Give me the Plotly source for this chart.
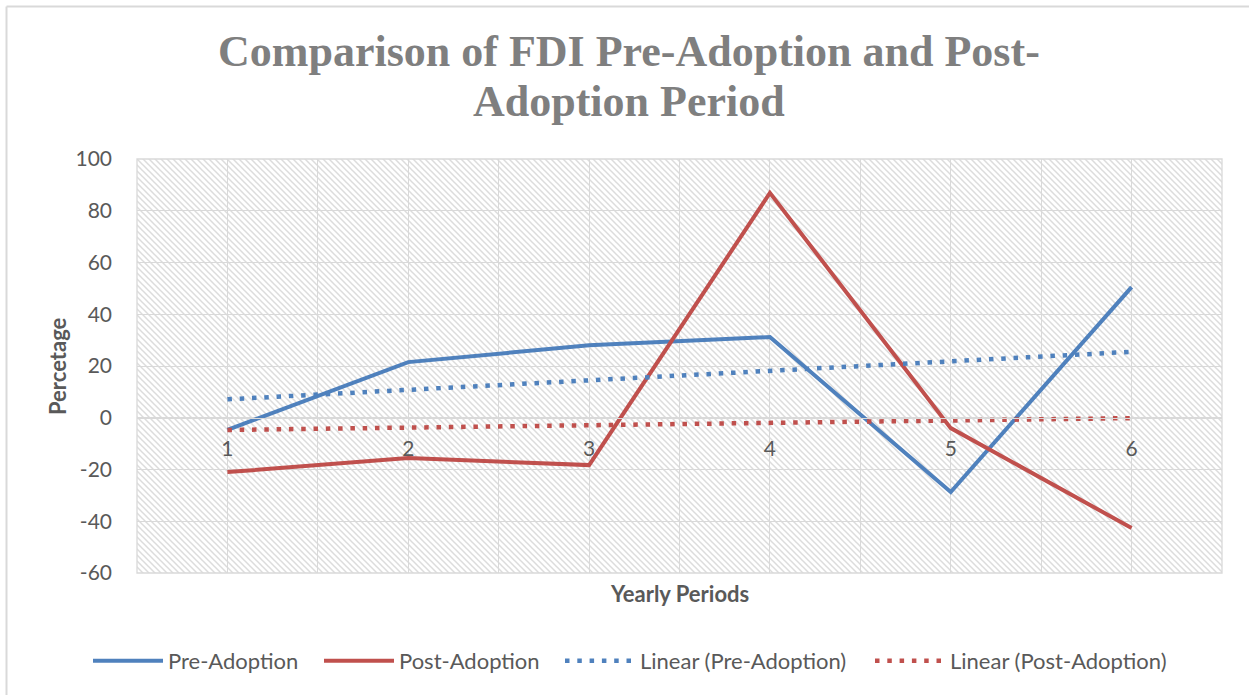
import base64
import numpy as np
import plotly.graph_objects as go

# ---- data ----
periods = [1, 2, 3, 4, 5, 6]
period_labels = ["1", "2", "3", "4", "5", "6"]
pre_adoption = [-4.7, 21.5, 28.0, 31.2, -28.7, 50.5]
post_adoption = [-21.0, -15.6, -18.3, 86.9, -4.0, -42.6]
y_ticks = [-60, -40, -20, 0, 20, 40, 60, 80, 100]
y_tick_labels = ["-60", "-40", "-20", "0", "20", "40", "60", "80", "100"]

title_lines = ["Comparison of FDI Pre-Adoption and Post-", "Adoption Period"]
series_names = ["Pre-Adoption", "Post-Adoption", "Linear (Pre-Adoption)", "Linear (Post-Adoption)"]

BLUE = "#4f81bd"
RED = "#c0504d"
GRID = "#d9d9d9"
TXT = "#595959"
FONT = "Lato"

# linear trendlines (least squares, like Excel's "Linear" trendline)
x_arr = np.array(periods, dtype=float)
pre_fit = np.polyval(np.polyfit(x_arr, pre_adoption, 1), x_arr)
post_fit = np.polyval(np.polyfit(x_arr, post_adoption, 1), x_arr)

W, H = 1249, 695
ML, MR, MT, MB = 137, 27, 159, 122
PW, PH = W - ML - MR, H - MT - MB


def px(xp):
    return (xp - ML) / PW


def py(yp):
    return (H - MB - yp) / PH


# hatched plot-area background as an svg pattern
svg = f"""<svg xmlns='http://www.w3.org/2000/svg' width='{PW}' height='{PH}'>
<defs><pattern id='p' width='6' height='6' patternUnits='userSpaceOnUse'>
<path d='M-1,-1 L7,7 M-1,5 L1,7 M5,-1 L7,1' stroke='#dcdcdc' stroke-width='1.5'/>
</pattern></defs>
<rect width='100%' height='100%' fill='white'/>
<rect width='100%' height='100%' fill='url(#p)'/>
</svg>"""
svg_uri = "data:image/svg+xml;base64," + base64.b64encode(svg.encode()).decode()

dotted = "4.5px,7.8px"
fig = go.Figure()
fig.add_trace(go.Scatter(x=periods, y=pre_adoption, mode="lines", name=series_names[0],
                         line=dict(color=BLUE, width=4), legend="legend"))
fig.add_trace(go.Scatter(x=periods, y=post_adoption, mode="lines", name=series_names[1],
                         line=dict(color=RED, width=4), legend="legend2"))
fig.add_trace(go.Scatter(x=periods, y=pre_fit, mode="lines", name=series_names[2],
                         line=dict(color=BLUE, width=4.5, dash=dotted), legend="legend3"))
fig.add_trace(go.Scatter(x=periods, y=post_fit, mode="lines", name=series_names[3],
                         line=dict(color=RED, width=4.5, dash=dotted), legend="legend4"))

zero_pos = (0 - y_ticks[0]) / (y_ticks[-1] - y_ticks[0])

title_annots = [
    dict(text=f"<b>{t}</b>", xref="paper", yref="paper", x=px(629), y=py(yc),
         xanchor="center", yanchor="middle", showarrow=False,
         font=dict(family="Liberation Serif", size=44, color="#7f7f7f"))
    for t, yc in zip(title_lines, [52, 101])
]


def legend_at(sym_start):
    return dict(orientation="h", xref="container", x=(sym_start - 6) / W, xanchor="left",
                yref="container", y=1 - 661 / H, yanchor="middle",
                font=dict(family=FONT, size=22, color=TXT),
                itemwidth=70, bgcolor="rgba(0,0,0,0)")


fig.update_layout(
    width=W, height=H,
    margin=dict(l=ML, r=MR, t=MT, b=MB, autoexpand=False),
    paper_bgcolor="white", plot_bgcolor="white",
    font=dict(family=FONT, color=TXT, size=21),
    showlegend=True,
    legend=legend_at(94),
    legend2=legend_at(325),
    legend3=legend_at(566),
    legend4=legend_at(876),
    xaxis=dict(range=[0.5, 6.5], tickmode="array", tickvals=periods, ticktext=period_labels,
               showgrid=True, gridcolor=GRID, gridwidth=1.3,
               minor=dict(dtick=0.5, tick0=0.5, showgrid=True, gridcolor=GRID, gridwidth=1.3),
               zeroline=False, showline=True, linecolor=GRID, linewidth=1.3,
               anchor="free", position=zero_pos, ticks="", ticklabelstandoff=12,
               tickfont=dict(family=FONT, size=21, color=TXT), fixedrange=True),
    yaxis=dict(range=[y_ticks[0], y_ticks[-1]], tickmode="array", tickvals=y_ticks,
               ticktext=y_tick_labels,
               showgrid=True, gridcolor=GRID, gridwidth=1.3, zeroline=False,
               showline=False, ticks="", ticklabelstandoff=24,
               tickfont=dict(family=FONT, size=21, color=TXT)),
    images=[dict(source=svg_uri, xref="paper", yref="paper", x=0, y=1, sizex=1, sizey=1,
                 xanchor="left", yanchor="top", sizing="stretch", layer="below")],
    annotations=title_annots + [
        dict(text="<b>Percetage</b>", xref="paper", yref="paper",
             x=px(57), y=py(366), xanchor="center", yanchor="middle", textangle=-90,
             showarrow=False, font=dict(family=FONT, size=22, color=TXT)),
        dict(text="<b>Yearly Periods</b>", xref="paper", yref="paper",
             x=px(679), y=py(593), xanchor="center", yanchor="middle",
             showarrow=False, font=dict(family=FONT, size=22, color=TXT)),
    ],
    shapes=[
        dict(type="rect", xref="paper", yref="paper", x0=0, x1=1, y0=0, y1=1,
             line=dict(color=GRID, width=1.3), layer="above"),
        dict(type="line", xref="paper", yref="paper",
             x0=px(6.5), x1=px(W + 5), y0=py(6.5), y1=py(6.5),
             line=dict(color=GRID, width=2)),
        dict(type="line", xref="paper", yref="paper",
             x0=px(6.5), x1=px(6.5), y0=py(6.5), y1=py(H + 5),
             line=dict(color=GRID, width=2)),
    ],
)

fig.write_html("out.html", config={"displayModeBar": False},
               post_script="document.body.style.margin='0px';")
